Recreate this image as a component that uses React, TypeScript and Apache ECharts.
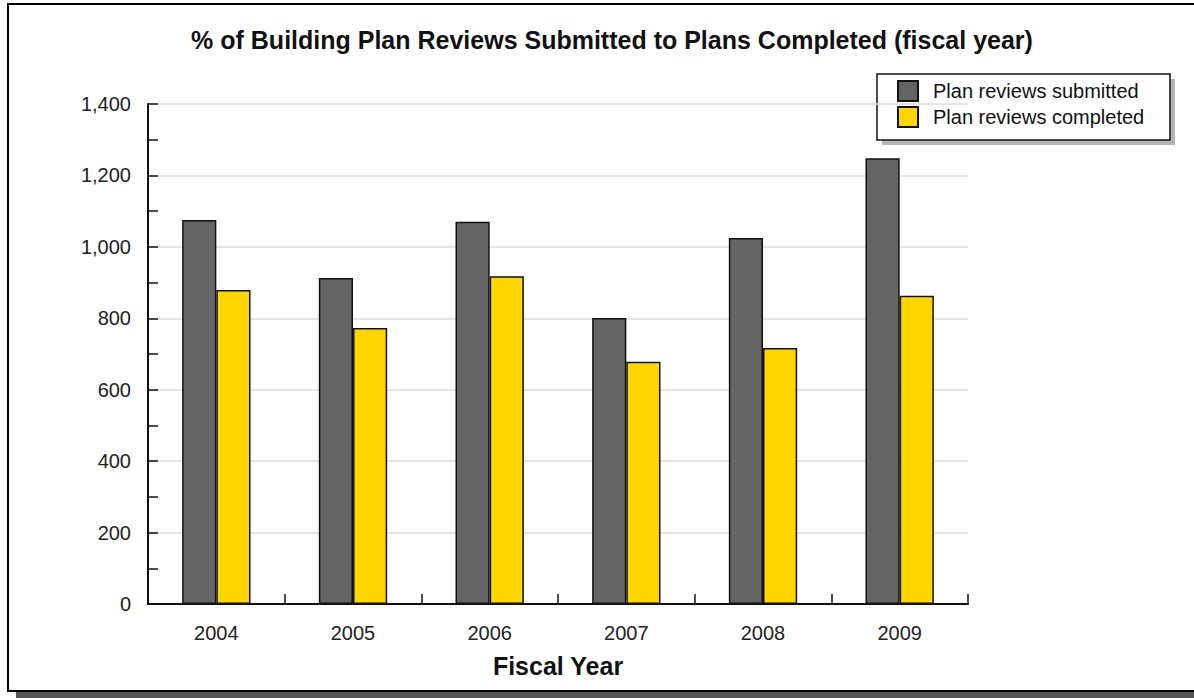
import React, { useEffect, useRef } from "react";
import * as echarts from "echarts";

const years = ["2004", "2005", "2006", "2007", "2008", "2009"];
const submitted = [1075, 913, 1070, 801, 1025, 1248];
const completed = [879, 773, 918, 678, 717, 863];
const seriesNames = ["Plan reviews submitted", "Plan reviews completed"];
const titleText = "% of Building Plan Reviews Submitted to Plans Completed (fiscal year)";
const xAxisName = "Fiscal Year";

const FONT = "'Liberation Sans', Arial, sans-serif";

export default function App() {
  const ref = useRef<HTMLDivElement>(null);
  useEffect(() => {
    if (!ref.current) return;
    const chart = echarts.init(ref.current, undefined, { renderer: "svg" });
    chart.setOption({
      animation: false,
      textStyle: { fontFamily: FONT },
      title: {
        text: titleText,
        left: 607,
        top: 22,
        textAlign: "center",
        textStyle: { fontSize: 25, fontWeight: "bold", color: "#111", fontFamily: FONT },
      },
      graphic: [
        { type: "rect", z: -20, shape: { x: 16, y: 12, width: 1200, height: 687 }, style: { fill: "#555" } },
        { type: "rect", z: -19, shape: { x: 8, y: 4, width: 1200, height: 687 }, style: { fill: "#fff", stroke: "#000", lineWidth: 2 } },
        { type: "rect", z: -18, shape: { x: 882, y: 79, width: 293, height: 66 }, style: { fill: "#b5b5b5" } },
        { type: "rect", z: -17, shape: { x: 877, y: 74, width: 293, height: 66 }, style: { fill: "#fff", stroke: "#111", lineWidth: 1.5 } },
      ],
      legend: {
        orient: "vertical",
        left: 897,
        top: 80,
        padding: 0,
        itemWidth: 20,
        itemHeight: 20,
        itemGap: 4,
        icon: "rect",
        textStyle: { fontSize: 20, color: "#111", fontFamily: FONT, padding: [0, 0, 0, 10] },
        data: seriesNames,
      },
      grid: { left: 148, right: 226, top: 104, bottom: 94 },
      xAxis: {
        type: "category",
        data: years,
        name: xAxisName,
        nameLocation: "middle",
        nameGap: 49,
        nameTextStyle: { fontSize: 25, fontWeight: "bold", color: "#111", fontFamily: FONT },
        axisLine: { lineStyle: { color: "#111", width: 2 } },
        axisTick: { show: true, inside: true, length: 10, lineStyle: { color: "#111", width: 1.5 } },
        axisLabel: { fontSize: 20, color: "#222", margin: 19, fontFamily: FONT },
      },
      yAxis: {
        type: "value",
        min: 0,
        max: 1400,
        interval: 200,
        axisLine: { show: true, lineStyle: { color: "#111", width: 2 } },
        axisTick: { show: true, inside: true, length: 10, lineStyle: { color: "#111", width: 1.5 } },
        minorTick: { show: true, splitNumber: 2, length: 10, lineStyle: { color: "#111", width: 1.5 } },
        axisLabel: {
          fontSize: 20,
          color: "#222",
          margin: 17,
          fontFamily: FONT,
          formatter: (v: number) => v.toLocaleString("en-US"),
        },
        splitLine: { show: true, lineStyle: { color: "#dcdcdc", width: 1.5 } },
      },
      series: [
        {
          name: seriesNames[0],
          type: "bar",
          data: submitted,
          barGap: "0%",
          barCategoryGap: "50%",
          itemStyle: { color: "#646464", borderColor: "#111", borderWidth: 1.5 },
        },
        {
          name: seriesNames[1],
          type: "bar",
          data: completed,
          barGap: "0%",
          barCategoryGap: "50%",
          itemStyle: { color: "#FFD700", borderColor: "#111", borderWidth: 1.5 },
        },
      ],
    });
    return () => chart.dispose();
  }, []);
  return (
    <div
      ref={ref}
      style={{ position: "fixed", left: 0, top: 0, width: 1194, height: 698, background: "#fff" }}
    />
  );
}
